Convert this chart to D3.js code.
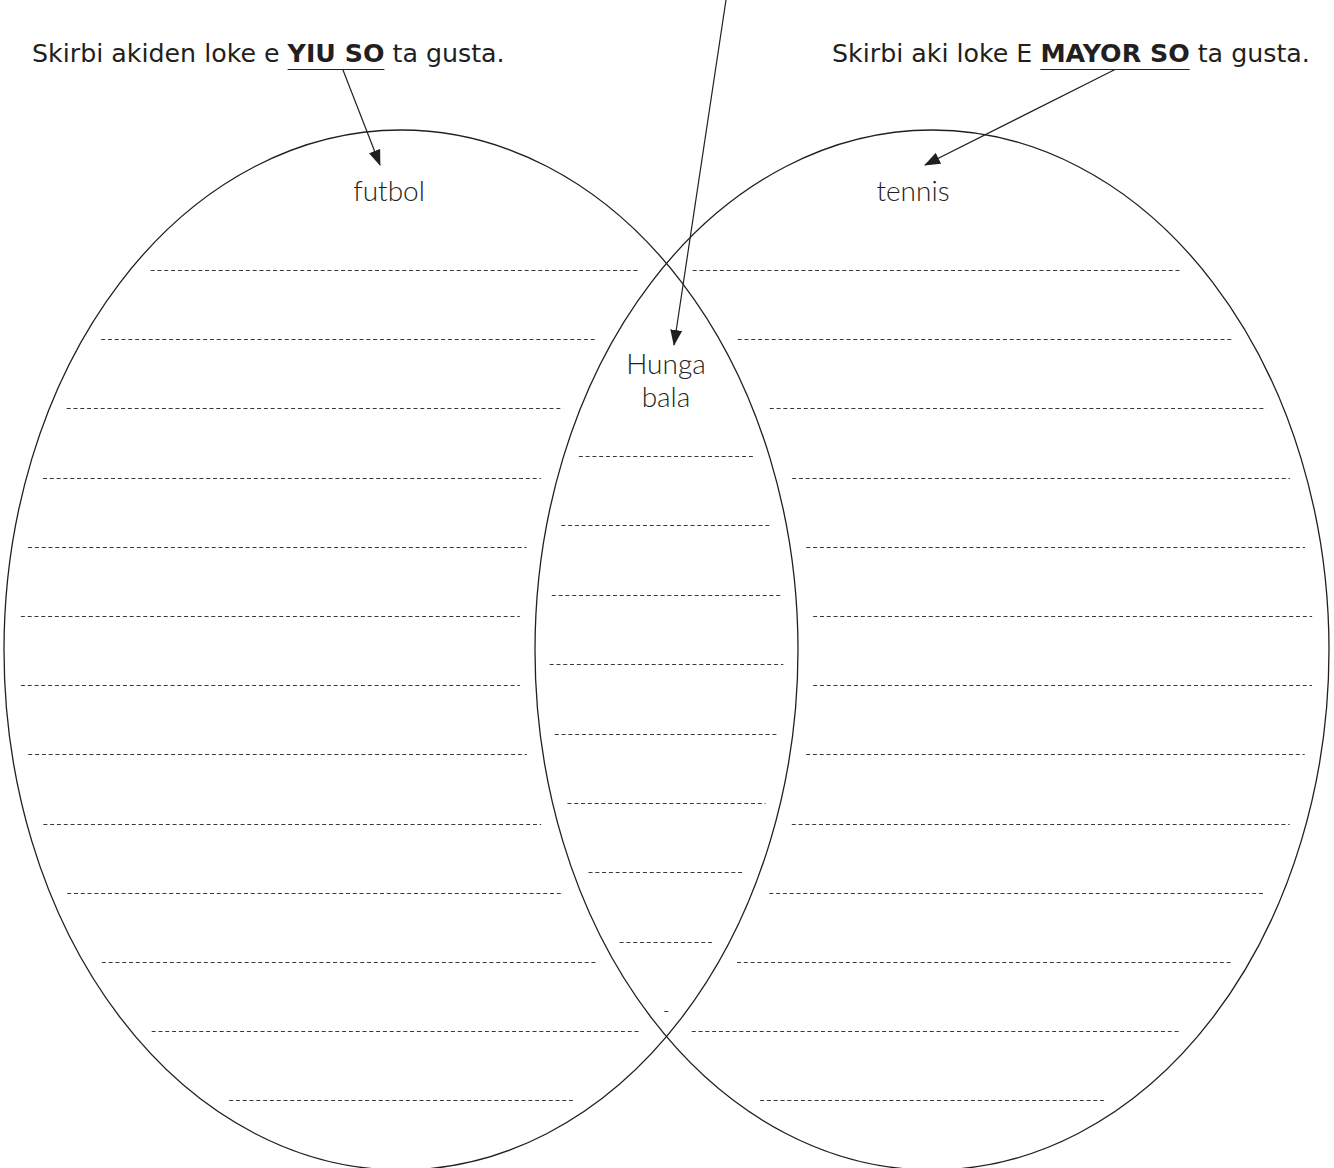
<!DOCTYPE html>
<html>
<head>
<meta charset="utf-8">
<script src="https://cdn.jsdelivr.net/npm/d3@7"></script>
<style>
body { margin: 0; background: #fff; }
svg { display: block; }
.prompt { font-family: "DejaVu Sans", sans-serif; font-size: 25.3px; fill: #231f20; }
.hand { font-family: Lato, sans-serif; font-weight: 300; font-size: 28px; fill: #231f20; }
</style>
</head>
<body>
<div id="chart"></div>
<script>
// the two sets and the overlap
var sets = ["futbol", "tennis"];
var overlapLabel = ["Hunga", "bala"];

// prompts above each set: [before, emphasised, after]
var prompts = [
    ["Skirbi akiden loke e ", "YIU SO", " ta gusta."],
    ["Skirbi aki loke E ", "MAYOR SO", " ta gusta."]
];

// number of writing lines in each region
var regions = ["left", "middle", "right"];
var rowCounts = [13, 9, 13];

var width = 1334,
    height = 1168;

var ell = {cy: 650, rx: 397, ry: 520};

var svg = d3.select("#chart").append("svg")
    .attr("width", width)
    .attr("height", height);

var x = d3.scalePoint()
    .domain(sets)
    .range([401, 932]);

var ySide = d3.scaleLinear()
    .domain([0, rowCounts[0] - 1])
    .range([270, 1100.4]);

var yMid = d3.scaleLinear()
    .domain([0, rowCounts[1] - 1])
    .range([456, 1011]);

// arrow head
svg.append("defs").append("marker")
    .attr("id", "head")
    .attr("markerUnits", "userSpaceOnUse")
    .attr("markerWidth", 16)
    .attr("markerHeight", 12)
    .attr("refX", 15)
    .attr("refY", 6)
    .attr("orient", "auto")
    .append("path")
    .attr("d", "M0,0 L16,6 L0,12 z")
    .style("fill", "#231f20");

// half width of an ellipse at height y, and how much the edge leans there
function halfWidth(y) {
    var t = (y - ell.cy) / ell.ry;
    return ell.rx * Math.sqrt(Math.max(0, 1 - t * t));
}
function lean(y) {
    var t = (y - ell.cy) / ell.ry;
    var s = Math.sqrt(Math.max(0.0001, 1 - t * t));
    var slope = ell.rx * t / (ell.ry * s);
    return Math.sqrt(1 + slope * slope);
}

function rowExtent(region, y) {
    var hw = halfWidth(y),
        xl = x(sets[0]), xr = x(sets[1]),
        a, b, inset = 16;
    if (region == "left") {
        a = xl - hw;
        b = Math.min(xl + hw, xr - hw);
    } else if (region == "right") {
        a = Math.max(xr - hw, xl + hw);
        b = xr + hw;
    } else {
        a = xr - hw;
        b = xl + hw;
        inset = 14.5;
    }
    var pad = inset * lean(y);
    return [a + pad, b - pad];
}

var rows = [];
regions.forEach(function (r, k) {
    d3.range(rowCounts[k]).forEach(function (i) {
        var y = r == "middle" ? yMid(i) : ySide(i);
        var e = rowExtent(r, y);
        rows.push({region: r, y: y, x1: e[0], x2: e[1]});
    });
});

svg.selectAll(".row")
    .data(rows)
    .enter()
    .append("line")
    .attr("class", "row")
    .attr("x1", function (d) { return d.x1; })
    .attr("x2", function (d) { return d.x2; })
    .attr("y1", function (d) { return Math.round(d.y) + 0.5; })
    .attr("y2", function (d) { return Math.round(d.y) + 0.5; })
    .style("stroke", "#3a3a3c")
    .style("stroke-width", 1)
    .style("stroke-dasharray", "4,2.8");

// the two ellipses
svg.selectAll(".set")
    .data(sets)
    .enter()
    .append("ellipse")
    .attr("class", "set")
    .attr("cx", function (d) { return x(d); })
    .attr("cy", ell.cy)
    .attr("rx", ell.rx)
    .attr("ry", ell.ry)
    .style("fill", "none")
    .style("stroke", "#231f20")
    .style("stroke-width", 1.3);

// prompts with underlined key words
var promptX = [32, 832],
    baseY = 62,
    underY = 69.5;

var starts = [];
prompts.forEach(function (p, i) {
    var t = svg.append("text")
        .attr("class", "prompt")
        .attr("x", promptX[i])
        .attr("y", baseY);
    t.append("tspan").text(p[0]);
    t.append("tspan").style("font-weight", "bold").text(p[1]);
    t.append("tspan").text(p[2]);

    var node = t.node(),
        i0 = p[0].length,
        i1 = p[0].length + p[1].length - 1;
    var u0 = node.getStartPositionOfChar(i0).x,
        u1 = node.getEndPositionOfChar(i1).x;
    svg.append("line")
        .attr("x1", u0).attr("x2", u1)
        .attr("y1", underY).attr("y2", underY)
        .style("stroke", "#231f20")
        .style("stroke-width", 1);
    starts.push(u0 + (u1 - u0) * (i == 0 ? 0.57 : 0.5));
});

// handwritten answers
svg.selectAll(".hand-set")
    .data(sets)
    .enter()
    .append("text")
    .attr("class", "hand")
    .attr("text-anchor", "middle")
    .attr("x", function (d, i) { return x(d) + (i == 0 ? -12 : -19); })
    .attr("y", 201)
    .text(function (d) { return d; });

svg.selectAll(".hand-mid")
    .data(overlapLabel)
    .enter()
    .append("text")
    .attr("class", "hand")
    .attr("text-anchor", "middle")
    .attr("x", 666)
    .attr("y", function (d, i) { return 374 + i * 33; })
    .text(function (d) { return d; });

// arrows from the prompts down to the answers
var arrows = [
    {x1: starts[0], y1: underY, x2: 380, y2: 165},
    {x1: starts[1], y1: underY, x2: 925, y2: 165},
    {x1: 726, y1: 0, x2: 674, y2: 345}
];

svg.selectAll(".arrow")
    .data(arrows)
    .enter()
    .append("line")
    .attr("class", "arrow")
    .attr("x1", function (d) { return d.x1; })
    .attr("y1", function (d) { return d.y1; })
    .attr("x2", function (d) { return d.x2; })
    .attr("y2", function (d) { return d.y2; })
    .attr("marker-end", "url(#head)")
    .style("stroke", "#231f20")
    .style("stroke-width", 1.2);
</script>
</body>
</html>
